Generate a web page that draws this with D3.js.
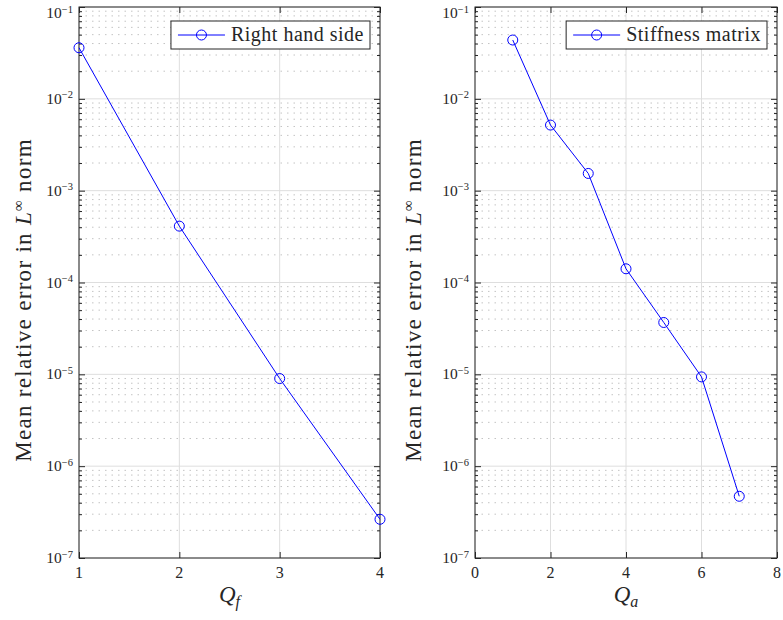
<!DOCTYPE html>
<html>
<head>
<meta charset="utf-8">
<script src="https://cdn.jsdelivr.net/npm/d3@7"></script>
<style>
  html, body { margin: 0; padding: 0; background: #fff; }
  svg { display: block; }
</style>
</head>
<body>
<svg id="chart" width="783" height="620" font-family="'Liberation Serif', 'DejaVu Serif', serif"></svg>
<script>
// Convergence of the mean relative error (L-infinity norm)
const rhsQ = [1, 2, 3, 4];
const rhsErr = [3.60e-2, 4.11e-4, 9.0e-6, 2.64e-7];

const stiffQ = [1, 2, 3, 4, 5, 6, 7];
const stiffErr = [4.37e-2, 5.18e-3, 1.54e-3, 1.41e-4, 3.67e-5, 9.38e-6, 4.70e-7];

const yExponents = [-7, -6, -5, -4, -3, -2, -1];
const rhsXTicks = [1, 2, 3, 4];
const stiffXTicks = [0, 2, 4, 6, 8];

const yLabel = "Mean relative error in ";
const legendNames = ["Right hand side", "Stiffness matrix"];

const svg = d3.select("#chart");
const axisColor = "#262626";
const lineColor = "#0000ff";
const serif = "'Liberation Serif', 'DejaVu Serif', serif";

const panels = [
  { x0: 79, x1: 380, domain: [1, 4], ticks: rhsXTicks, qs: rhsQ, errs: rhsErr,
    name: legendNames[0], sub: "f", yLabX: 31 },
  { x0: 475, x1: 777, domain: [0, 8], ticks: stiffXTicks, qs: stiffQ, errs: stiffErr,
    name: legendNames[1], sub: "a", yLabX: 421 }
];
const plotTop = 7, plotBottom = 558;

const majors = yExponents.map(e => Math.pow(10, e));
const minors = [];
yExponents.slice(0, -1).forEach(e => {
  for (let k = 2; k <= 9; k++) minors.push(k * Math.pow(10, e));
});

panels.forEach(p => {
  const w = p.x1 - p.x0, h = plotBottom - plotTop;
  const x = d3.scaleLinear().domain(p.domain).range([0, w]);
  const y = d3.scaleLog().domain([1e-7, 1e-1]).range([h, 0]);
  const g = svg.append("g").attr("transform", `translate(${p.x0},${plotTop})`)
    .attr("font-family", serif).attr("fill", axisColor);

  // minor grid (dotted)
  g.append("g").selectAll("line").data(minors).join("line")
    .attr("x1", 0).attr("x2", w)
    .attr("y1", d => y(d)).attr("y2", d => y(d))
    .attr("stroke", "#c4c4c4").attr("stroke-width", 1)
    .attr("stroke-dasharray", "1.5,5");

  // major grid
  g.append("g").selectAll("line").data(majors).join("line")
    .attr("x1", 0).attr("x2", w)
    .attr("y1", d => y(d)).attr("y2", d => y(d))
    .attr("stroke", "#dedede").attr("stroke-width", 1);
  g.append("g").selectAll("line").data(p.ticks).join("line")
    .attr("x1", d => x(d)).attr("x2", d => x(d))
    .attr("y1", 0).attr("y2", h)
    .attr("stroke", "#dedede").attr("stroke-width", 1);

  // inward ticks on all four sides
  const styleAxis = sel => {
    sel.select(".domain").remove();
    sel.selectAll("line").attr("stroke", axisColor);
  };
  g.append("g").call(d3.axisLeft(y).tickValues(majors).tickSize(-6).tickFormat("")).call(styleAxis);
  g.append("g").call(d3.axisLeft(y).tickValues(minors).tickSize(-3).tickFormat("")).call(styleAxis);
  g.append("g").attr("transform", `translate(${w},0)`)
    .call(d3.axisRight(y).tickValues(majors).tickSize(-6).tickFormat("")).call(styleAxis);
  g.append("g").attr("transform", `translate(${w},0)`)
    .call(d3.axisRight(y).tickValues(minors).tickSize(-3).tickFormat("")).call(styleAxis);
  g.append("g").attr("transform", `translate(0,${h})`)
    .call(d3.axisBottom(x).tickValues(p.ticks).tickSize(-6).tickFormat("")).call(styleAxis);
  g.append("g")
    .call(d3.axisTop(x).tickValues(p.ticks).tickSize(-6).tickFormat("")).call(styleAxis);

  // box
  g.append("rect").attr("width", w).attr("height", h)
    .attr("fill", "none").attr("stroke", axisColor).attr("stroke-width", 1);

  // y tick labels 10^e (top label kept inside the page)
  const yl = g.append("g").selectAll("text").data(yExponents).join("text")
    .attr("text-anchor", "end")
    .attr("x", -6)
    .attr("y", e => Math.max(y(Math.pow(10, e)) + 5, 15 - plotTop + 3))
    .attr("font-family", serif).attr("fill", axisColor)
    .attr("font-size", 15.5);
  yl.append("tspan").text("10");
  yl.append("tspan").attr("dy", -5.5).attr("font-size", 10.5)
    .text(e => "\u2212" + Math.abs(e));

  // x tick labels
  g.append("g").selectAll("text").data(p.ticks).join("text")
    .attr("text-anchor", "middle")
    .attr("x", d => x(d)).attr("y", h + 20)
    .attr("font-family", serif).attr("fill", axisColor)
    .attr("font-size", 16)
    .text(d => d);

  // x axis label
  const xl = g.append("text").attr("text-anchor", "middle")
    .attr("x", w / 2).attr("y", h + 44).attr("font-size", 23)
    .attr("font-family", serif).attr("fill", axisColor);
  xl.append("tspan").attr("font-style", "italic").text("Q");
  xl.append("tspan").attr("font-style", "italic").attr("font-size", 16).attr("dy", 5).text(p.sub);

  // y axis label
  const ylab = svg.append("text")
    .attr("transform", `translate(${p.yLabX},300) rotate(-90)`)
    .attr("text-anchor", "middle").attr("font-size", 23)
    .attr("letter-spacing", 1.3)
    .attr("font-family", serif).attr("fill", axisColor);
  ylab.append("tspan").text(yLabel);
  ylab.append("tspan").attr("font-style", "italic").text("L");
  ylab.append("tspan").attr("font-size", 15).attr("dy", -8).text("\u221E");
  ylab.append("tspan").attr("dy", 8).text(" norm");

  // series
  g.append("path").datum(p.qs.map((q, i) => [q, p.errs[i]]))
    .attr("fill", "none").attr("stroke", lineColor).attr("stroke-width", 1)
    .attr("d", d3.line().x(d => x(d[0])).y(d => y(d[1])));
  g.append("g").selectAll("circle").data(p.qs.map((q, i) => [q, p.errs[i]])).join("circle")
    .attr("cx", d => x(d[0])).attr("cy", d => y(d[1])).attr("r", 5)
    .attr("fill", "none").attr("stroke", lineColor).attr("stroke-width", 1);

  // legend
  const lg = g.append("g");
  const box = lg.append("rect").attr("fill", "#fff").attr("stroke", axisColor).attr("stroke-width", 1);
  const lt = lg.append("text").attr("font-size", 20).attr("letter-spacing", 0.5)
    .attr("font-family", serif).attr("fill", axisColor).text(p.name);
  const tw = lt.node().getComputedTextLength();
  const bw = 60 + tw + 6, bh = 28;
  const bx = w - 10 - bw, by = 14;
  box.attr("x", bx).attr("y", by).attr("width", bw).attr("height", bh);
  lt.attr("x", bx + 60).attr("y", by + bh / 2 + 6);
  lg.append("line").attr("x1", bx + 7).attr("x2", bx + 54)
    .attr("y1", by + bh / 2).attr("y2", by + bh / 2)
    .attr("stroke", lineColor).attr("stroke-width", 1);
  lg.append("circle").attr("cx", bx + 30.5).attr("cy", by + bh / 2).attr("r", 5)
    .attr("fill", "none").attr("stroke", lineColor).attr("stroke-width", 1);
});
</script>
</body>
</html>
